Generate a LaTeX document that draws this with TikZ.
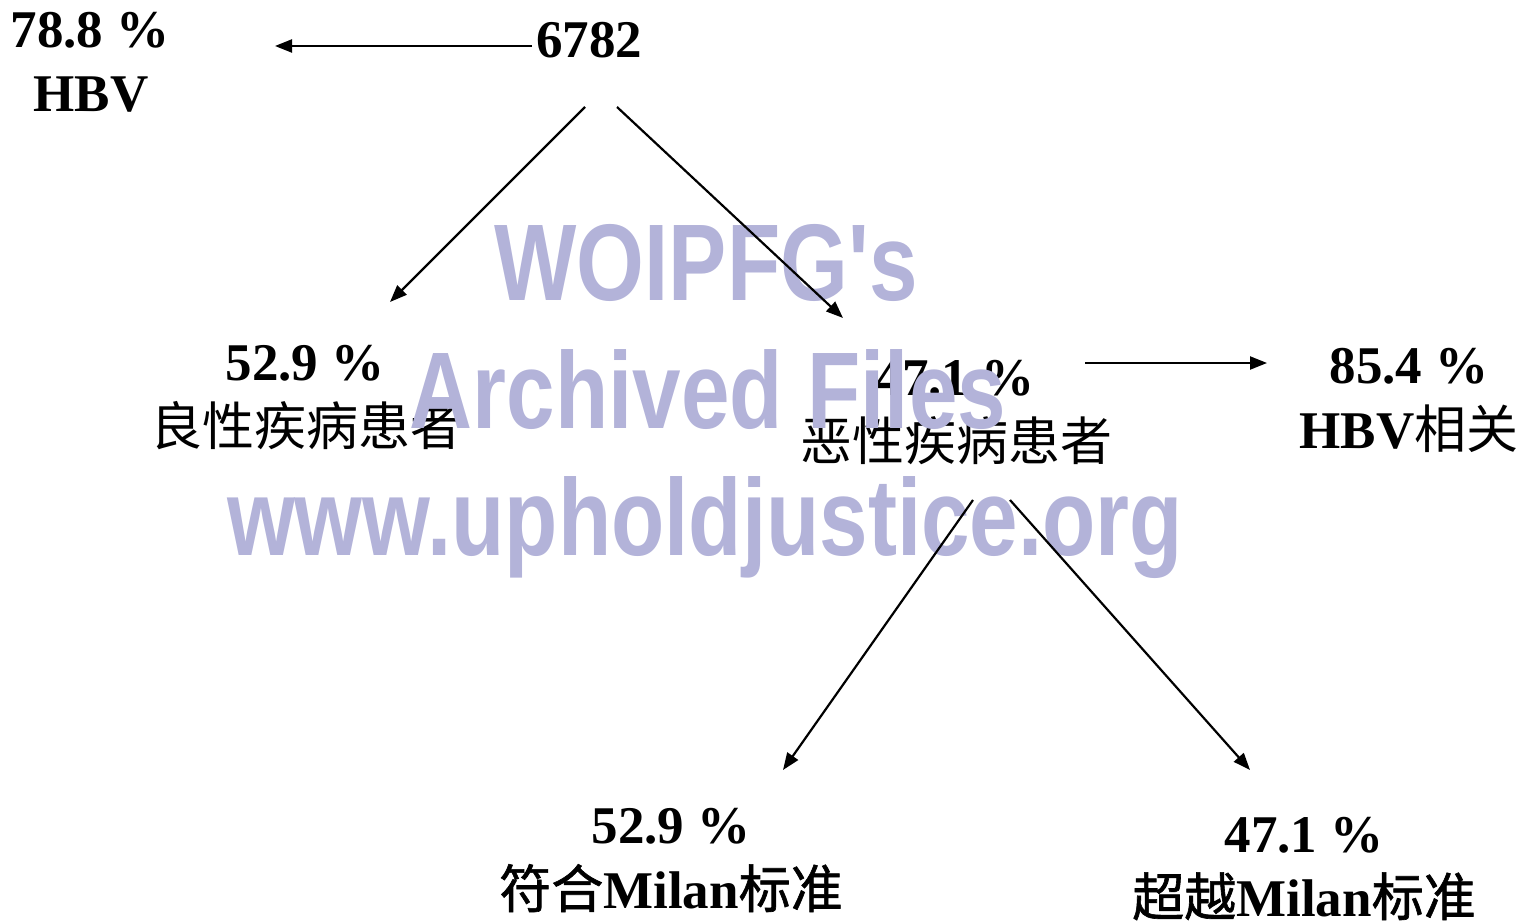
\documentclass[tikz,border=0pt]{standalone}
\usepackage{fontspec}
\setmainfont{Liberation Serif}
\newfontfamily\cjk{Noto Sans CJK SC}
\newfontfamily\cjkb[FakeBold=1.2]{Noto Sans CJK SC}
\newfontfamily\wmfont[FakeStretch=0.80]{Liberation Sans}
\usetikzlibrary{arrows.meta}
\definecolor{wmcol}{RGB}{179,179,217}
\tikzset{
  lbl/.style={anchor=base, inner sep=0pt, font=\fontsize{53}{65}\selectfont\bfseries},
  cjklbl/.style={anchor=base, inner sep=0pt, font=\fontsize{52}{65}\selectfont\cjk},
  wm/.style={anchor=base, inner sep=0pt, text=wmcol, font=\fontsize{109}{128}\selectfont\wmfont\bfseries},
  conn/.style={line width=2.2pt, -{Triangle[length=17pt,width=13pt]}}
}
\begin{document}
\begin{tikzpicture}[x=1pt,y=1pt]
\useasboundingbox (0,0) rectangle (1540,-923);
% labels
\node[lbl] (hbvA1) at (90,-48) {78.8 \%};
\node[lbl] (hbvA2) at (91,-112) {HBV};
\node[lbl] (root) at (589,-58) {6782};
\node[lbl] (ben1) at (305,-380) {52.9 \%};
\node[cjklbl] (ben2) at (306,-445) {良性疾病患者};
\node[lbl] (mal1) at (955,-395) {47.1 \%};
\node[cjklbl] (mal2) at (956,-460) {恶性疾病患者};
\node[lbl] (hbvB1) at (1409,-383) {85.4 \%};
\node[lbl] (hbvB2) at (1409,-448) {HBV{\fontsize{52}{65}\selectfont\cjk\mdseries 相关}};
\node[lbl] (mil1) at (671,-843) {52.9 \%};
\node[lbl] (mil2) at (671,-908) {{\fontsize{52}{65}\selectfont\cjkb\mdseries 符合}Milan{\fontsize{52}{65}\selectfont\cjkb\mdseries 标准}};
\node[lbl] (bey1) at (1304,-852) {47.1 \%};
\node[lbl] (bey2) at (1304,-916) {{\fontsize{52}{65}\selectfont\cjkb\mdseries 超越}Milan{\fontsize{52}{65}\selectfont\cjkb\mdseries 标准}};
% watermark
\node[wm] (wm1) at (706,-300) {WOIPFG's};
\node[wm] (wm2) at (708,-428) {Archived Files};
\node[wm] (wm3) at (705,-555) {www.upholdjustice.org};
% connectors
\draw[conn] ([shift={(-57,12)}]root.base) -- ([shift={(185,2)}]hbvA1.base);
\draw[conn] ([shift={(-4,-49)}]root.base) -- ([shift={(85,78)}]ben1.base);
\draw[conn] ([shift={(28,-49)}]root.base) -- ([shift={(-112,77)}]mal1.base);
\draw[conn] ([shift={(130,32)}]mal1.base) -- ([shift={(-142,20)}]hbvB1.base);
\draw[conn] ([shift={(17,-40)}]mal2.base) -- ([shift={(112,73)}]mil1.base);
\draw[conn] ([shift={(54,-40)}]mal2.base) -- ([shift={(-54,82)}]bey1.base);
\end{tikzpicture}
\end{document}
